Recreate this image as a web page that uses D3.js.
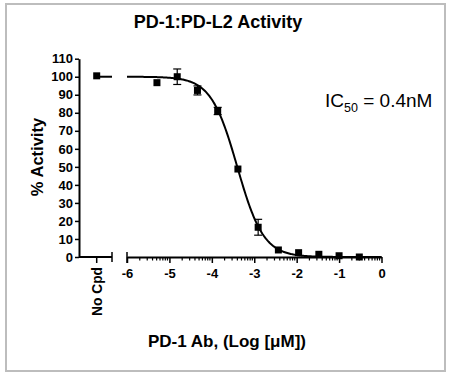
<!DOCTYPE html>
<html>
<head>
<meta charset="utf-8">
<script src="https://cdn.jsdelivr.net/npm/d3@7"></script>
<style>
  body { margin: 0; background: #fff; }
  text { font-family: "Liberation Sans", Arial, sans-serif; }
</style>
</head>
<body>
<div id="chart"></div>
<script>
// data
const logConc = [-5.294, -4.816, -4.339, -3.862, -3.385, -2.908, -2.431, -1.954, -1.477, -1.0, -0.523];
const activity = [96.7, 100, 92.4, 81, 48.8, 16.5, 3.9, 2.4, 1.5, 0.7, 0];
const errors = [0, 4.3, 2.5, 2, 0, 4.4, 0, 0, 0, 0, 0];
const noCpdValue = 100.5;
const xTicks = [-6, -5, -4, -3, -2, -1, 0];
const yTicks = [0, 10, 20, 30, 40, 50, 60, 70, 80, 90, 100, 110];
// 4PL fit
const fitTop = 100, fitBottom = 0, fitLogIC50 = -3.4, fitHill = 1.4;

const width = 451, height = 378;

const svg = d3.select("#chart")
    .append("svg")
    .attr("width", width)
    .attr("height", height);

// frame
svg.append("rect")
    .attr("x", 6).attr("y", 4)
    .attr("width", 439).attr("height", 367)
    .attr("fill", "#fff")
    .attr("stroke", "#bdbdbd")
    .attr("stroke-width", 2);

const x = d3.scaleLinear().domain([-6, 0]).range([127, 381.5]);
const y = d3.scaleLinear().domain([0, 110]).range([257, 58.7]);
const yAxisX = 79;
const noCpdX = 96.7;
const noCpdEnd = 112;

// title
svg.append("text")
    .attr("x", 218).attr("y", 28)
    .attr("text-anchor", "middle")
    .attr("font-size", "18px")
    .attr("font-weight", "bold")
    .text("PD-1:PD-L2 Activity");

// y axis
const yAxis = svg.append("g")
    .attr("transform", `translate(${yAxisX},0)`)
    .call(d3.axisLeft(y).tickValues(yTicks).tickSize(4).tickSizeOuter(0));
yAxis.select(".domain").attr("stroke-width", 2);
yAxis.selectAll(".tick line").attr("stroke-width", 1.5);
yAxis.selectAll(".tick text")
    .attr("font-size", "13px")
    .attr("font-weight", "bold")
    .attr("font-family", "Liberation Sans, Arial, sans-serif")
    .attr("fill", "#000")
    .attr("dx", "1px");

svg.append("text")
    .attr("transform", `translate(43,157) rotate(-90)`)
    .attr("text-anchor", "middle")
    .attr("font-size", "16.5px")
    .attr("font-weight", "bold")
    .text("% Activity");

// x axis, "No Cpd" segment
const axisY = y(0);
const gNo = svg.append("g");
gNo.append("line")
    .attr("x1", yAxisX).attr("x2", noCpdEnd)
    .attr("y1", axisY).attr("y2", axisY)
    .attr("stroke", "#000").attr("stroke-width", 2);
gNo.append("line")
    .attr("x1", noCpdEnd).attr("x2", noCpdEnd)
    .attr("y1", axisY - 5).attr("y2", axisY + 5)
    .attr("stroke", "#000").attr("stroke-width", 1.5);
gNo.append("line")
    .attr("x1", noCpdX).attr("x2", noCpdX)
    .attr("y1", axisY).attr("y2", axisY + 6)
    .attr("stroke", "#000").attr("stroke-width", 1.5);
gNo.append("text")
    .attr("transform", `translate(${noCpdX + 5},${axisY + 10}) rotate(-90)`)
    .attr("text-anchor", "end")
    .attr("font-size", "13.8px")
    .attr("font-weight", "bold")
    .text("No Cpd");

// x axis, log segment
const xAxis = svg.append("g")
    .attr("transform", `translate(0,${axisY})`)
    .call(d3.axisBottom(x).tickValues(xTicks).tickSize(6).tickSizeOuter(0)
        .tickFormat(d => d < 0 ? "-" + Math.abs(d) : String(d)));
xAxis.select(".domain").attr("stroke-width", 2);
xAxis.selectAll(".tick line").attr("stroke-width", 1.5);
xAxis.selectAll(".tick text")
    .attr("font-size", "13px")
    .attr("font-weight", "bold")
    .attr("font-family", "Liberation Sans, Arial, sans-serif")
    .attr("fill", "#000")
    .attr("dy", "0.95em");

// minor log ticks
const minors = [];
for (let d = -6; d < 0; d++) {
    for (let k = 2; k <= 9; k++) minors.push(d + Math.log10(k));
}
svg.append("g")
    .selectAll("line")
    .data(minors)
    .enter()
    .append("line")
    .attr("x1", d => x(d)).attr("x2", d => x(d))
    .attr("y1", axisY).attr("y2", axisY + 3.5)
    .attr("stroke", "#000").attr("stroke-width", 1.2);

// end cap at -6
svg.append("line")
    .attr("x1", x(-6)).attr("x2", x(-6))
    .attr("y1", axisY - 5).attr("y2", axisY + 6)
    .attr("stroke", "#000").attr("stroke-width", 1.5);

svg.append("text")
    .attr("x", 227).attr("y", 347)
    .attr("text-anchor", "middle")
    .attr("font-size", "17px")
    .attr("font-weight", "bold")
    .text("PD-1 Ab, (Log [\u03BCM])");

// fitted curve
const fit = v => fitBottom + (fitTop - fitBottom) / (1 + Math.pow(10, (v - fitLogIC50) * fitHill));
const curveX = d3.range(-6, 0.0001, 0.02);
svg.append("path")
    .datum(curveX)
    .attr("fill", "none")
    .attr("stroke", "#000")
    .attr("stroke-width", 2)
    .attr("d", d3.line().x(d => x(d)).y(d => y(fit(d))));

// No Cpd line and point
svg.append("line")
    .attr("x1", noCpdX).attr("x2", noCpdEnd)
    .attr("y1", y(100)).attr("y2", y(100))
    .attr("stroke", "#000").attr("stroke-width", 2);

const pts = logConc.map((v, i) => ({ x: v, y: activity[i], e: errors[i] }));

// error bars
const eb = svg.append("g")
    .selectAll("g")
    .data(pts.filter(d => d.e > 0))
    .enter()
    .append("g");
eb.append("line")
    .attr("x1", d => x(d.x)).attr("x2", d => x(d.x))
    .attr("y1", d => y(d.y - d.e)).attr("y2", d => y(d.y + d.e))
    .attr("stroke", "#000").attr("stroke-width", 1.2);
eb.selectAll(".cap")
    .data(d => [d.y - d.e, d.y + d.e].map(v => ({ x: d.x, v })))
    .enter()
    .append("line")
    .attr("x1", d => x(d.x) - 4).attr("x2", d => x(d.x) + 4)
    .attr("y1", d => y(d.v)).attr("y2", d => y(d.v))
    .attr("stroke", "#000").attr("stroke-width", 1.2);

// markers
const ms = 7;
svg.append("g")
    .selectAll("rect")
    .data(pts)
    .enter()
    .append("rect")
    .attr("x", d => x(d.x) - ms / 2)
    .attr("y", d => y(d.y) - ms / 2)
    .attr("width", ms).attr("height", ms)
    .attr("fill", "#000");

svg.append("rect")
    .attr("x", noCpdX - ms / 2)
    .attr("y", y(noCpdValue) - ms / 2)
    .attr("width", ms).attr("height", ms)
    .attr("fill", "#000");

// IC50 annotation
const ic = svg.append("text")
    .attr("x", 325).attr("y", 107)
    .attr("font-size", "19px");
ic.append("tspan").text("IC");
ic.append("tspan").attr("font-size", "12.5px").attr("dy", "5").text("50");
ic.append("tspan").attr("dy", "-5").text(" = 0.4nM");
</script>
</body>
</html>
